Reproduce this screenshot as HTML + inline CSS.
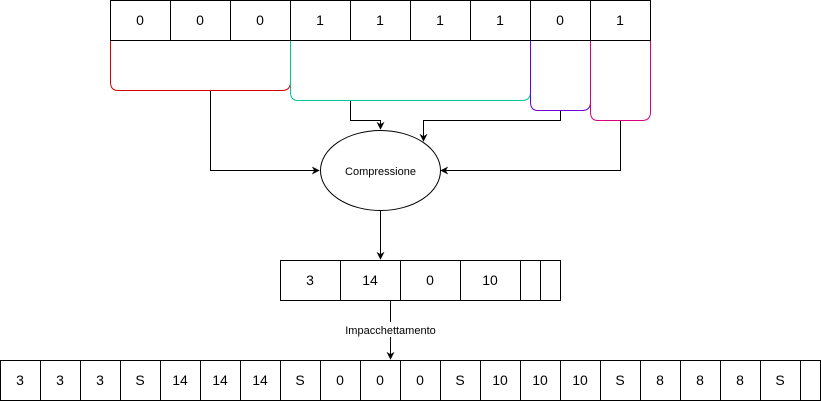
<!DOCTYPE html>
<html><head><style>html,body{margin:0;padding:0;background:#fff;width:821px;height:401px;overflow:hidden}</style></head>
<body>
<svg width="821" height="401" viewBox="0 0 821 401" xmlns="http://www.w3.org/2000/svg" font-family="Liberation Sans, sans-serif">
<defs><marker id="a" viewBox="0 0 10 10" refX="9" refY="5" markerWidth="8" markerHeight="8" orient="auto" markerUnits="userSpaceOnUse"><path d="M0,0 L10,5 L0,10 L3,5 z" fill="#000"/></marker></defs>
<g fill="none" stroke-width="1">
<path d="M110.5,40 V82 Q110.5,90.5 118,90.5 H282 Q290.5,90.5 290.5,82 V40" stroke="#d40000"/>
<path d="M290.5,40 V92 Q290.5,100.5 298,100.5 H522 Q530.5,100.5 530.5,92 V40" stroke="#00c49a"/>
<path d="M530.5,40 V102 Q530.5,110.5 538,110.5 H582 Q590.5,110.5 590.5,102 V40" stroke="#6a00d4"/>
<path d="M590.5,40 V112 Q590.5,120.5 598,120.5 H642 Q650.5,120.5 650.5,112 V40" stroke="#d4007a"/>
</g>
<g stroke="#000" fill="none">
<rect x="110.5" y="0.5" width="540" height="40"/>
<path d="M170.5,0V40M230.5,0V40M290.5,0V40M350.5,0V40M410.5,0V40M470.5,0V40M530.5,0V40M590.5,0V40"/>
<path d="M210.5,91 V170.5 H319" marker-end="url(#a)"/>
<path d="M350.5,101 V120.5 H380.5 V129" marker-end="url(#a)"/>
<path d="M560.5,111 V120.5 H423.5 V141" marker-end="url(#a)"/>
<path d="M620.5,121 V170.5 H441" marker-end="url(#a)"/>
<ellipse cx="380.5" cy="170.5" rx="60" ry="40" fill="#fff"/>
<path d="M380.5,211 V259" marker-end="url(#a)"/>
<rect x="280.5" y="260.5" width="280" height="40"/>
<path d="M340.5,260V300M400.5,260V300M460.5,260V300M520.5,260V300M540.5,260V300"/>
<path d="M390.5,301 V359" marker-end="url(#a)"/>
<rect x="0.5" y="360.5" width="820" height="40"/>
<path d="M40.5,360V400M80.5,360V400M120.5,360V400M160.5,360V400M200.5,360V400M240.5,360V400M280.5,360V400M320.5,360V400M360.5,360V400M400.5,360V400M440.5,360V400M480.5,360V400M520.5,360V400M560.5,360V400M600.5,360V400M640.5,360V400M680.5,360V400M720.5,360V400M760.5,360V400M800.5,360V400"/>
</g>
<rect x="340" y="322" width="100" height="15" fill="#fff"/>
<g font-size="14" text-anchor="middle" fill="#000">
<text x="140" y="25">0</text><text x="200" y="25">0</text><text x="260" y="25">0</text><text x="320" y="25">1</text><text x="380" y="25">1</text><text x="440" y="25">1</text><text x="500" y="25">1</text><text x="560" y="25">0</text><text x="620" y="25">1</text>
<text x="310" y="285">3</text><text x="370" y="285">14</text><text x="430" y="285">0</text><text x="490" y="285">10</text>
<text x="20" y="385">3</text><text x="60" y="385">3</text><text x="100" y="385">3</text><text x="140" y="385">S</text><text x="180" y="385">14</text><text x="220" y="385">14</text><text x="260" y="385">14</text><text x="300" y="385">S</text><text x="340" y="385">0</text><text x="380" y="385">0</text><text x="420" y="385">0</text><text x="460" y="385">S</text><text x="500" y="385">10</text><text x="540" y="385">10</text><text x="580" y="385">10</text><text x="620" y="385">S</text><text x="660" y="385">8</text><text x="700" y="385">8</text><text x="740" y="385">8</text><text x="780" y="385">S</text>
<text x="380.5" y="175" font-size="11">Compressione</text>
<text x="390.5" y="334" font-size="11">Impacchettamento</text>
</g>
</svg>
</body></html>
